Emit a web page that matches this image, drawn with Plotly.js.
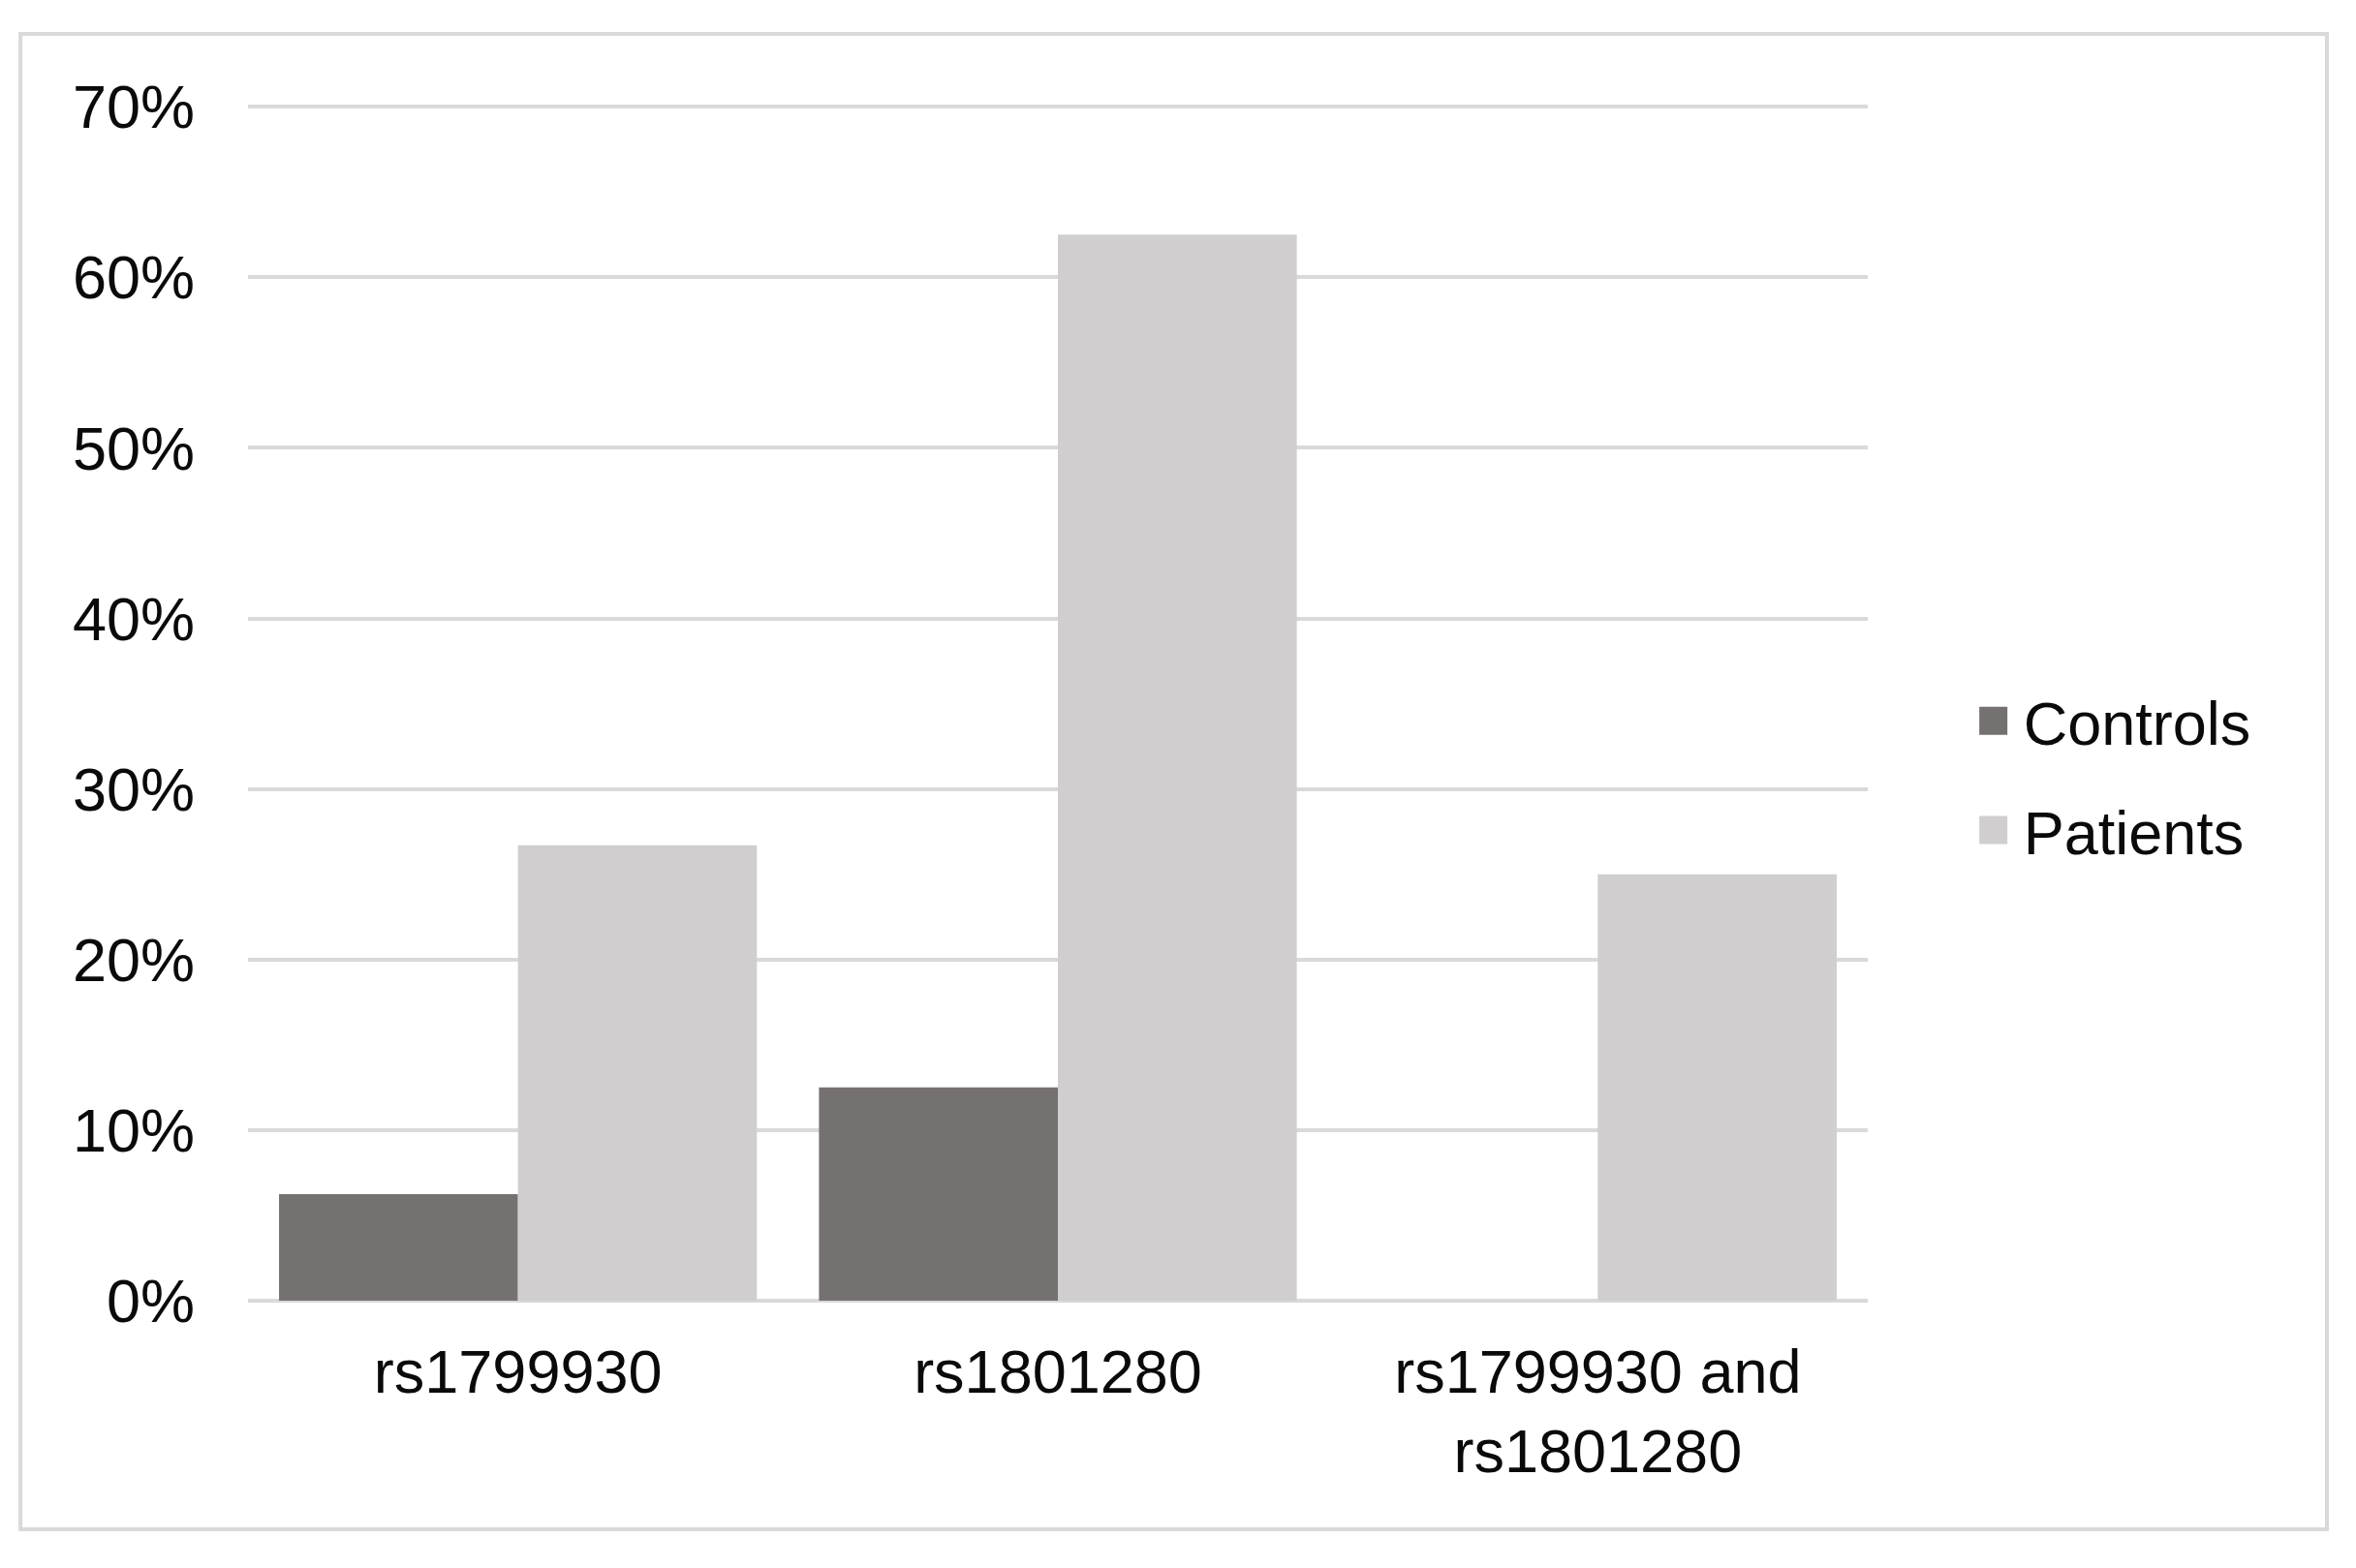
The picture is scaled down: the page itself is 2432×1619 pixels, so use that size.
<!DOCTYPE html>
<html>
<head>
<meta charset="utf-8">
<script src="https://cdn.plot.ly/plotly-3.0.1.min.js"></script>
<style>
  html, body { margin: 0; padding: 0; background: #ffffff; }
  #chart { width: 2432px; height: 1619px; }
</style>
</head>
<body>
<div id="chart"></div>
<script>
// ---- data ----
const categories = ["rs1799930", "rs1801280", "rs1799930 and<br>rs1801280"];
const controls = [6.25, 12.5, 0];
const patients = [26.7, 62.5, 25.0];
const seriesNames = ["Controls", "Patients"];
const yTickValues = [0, 10, 20, 30, 40, 50, 60, 70];
const yTickLabels = ["0%", "10%", "20%", "30%", "40%", "50%", "60%", "70%"];

const FONT = "Liberation Sans, Arial, sans-serif";
const TXT = "#0a0a0a";

const traces = [
  {
    type: "bar", name: seriesNames[0], x: categories, y: controls,
    marker: { color: "#767171", line: { width: 0 } },
    legendgroup: "a", hoverinfo: "skip"
  },
  {
    type: "bar", name: seriesNames[1], x: categories, y: patients,
    marker: { color: "#D0CECE", line: { width: 0 } },
    legendgroup: "b", hoverinfo: "skip"
  }
];

const layout = {
  width: 2432, height: 1619,
  paper_bgcolor: "#ffffff", plot_bgcolor: "#ffffff",
  margin: { l: 256, r: 504, t: 105, b: 276, pad: 0 },
  barmode: "group", bargap: 0.115, bargroupgap: 0,
  font: { family: FONT, size: 63, color: TXT },
  showlegend: true,
  legend: {
    x: 1.059, xanchor: "left", y: 0.438, yanchor: "middle",
    font: { family: FONT, size: 63, color: TXT },
    traceorder: "grouped", tracegroupgap: 28, itemwidth: 52,
    bgcolor: "rgba(0,0,0,0)", borderwidth: 0
  },
  xaxis: {
    type: "category", showgrid: false, zeroline: false, showline: false,
    ticks: "", ticklabelstandoff: 31,
    tickfont: { family: FONT, size: 63, color: TXT }
  },
  yaxis: {
    range: [0, 70.3], tickmode: "array", tickvals: yTickValues, ticktext: yTickLabels,
    showgrid: true, gridcolor: "#D9D9D9", gridwidth: 4,
    zeroline: true, zerolinecolor: "#D9D9D9", zerolinewidth: 4,
    showline: false, ticks: "", ticklabelstandoff: 54,
    tickfont: { family: FONT, size: 63, color: TXT }
  },
  shapes: [{
    type: "rect", xref: "paper", yref: "paper",
    x0: -0.1405, x1: 1.2835, y0: -0.1906, y1: 1.0566,
    line: { color: "#D9D9D9", width: 4 }, fillcolor: "rgba(0,0,0,0)", layer: "below"
  }]
};

function enlargeLegendSymbols() {
  document.querySelectorAll("#chart .legend .legendpoints path").forEach(function (p) {
    p.setAttribute("d", "M14.5,14.5H-14.5V-14.5H14.5Z");
    p.style.strokeWidth = "0px";
  });
}

Plotly.newPlot("chart", traces, layout, { displayModeBar: false, staticPlot: true })
  .then(function (gd) {
    enlargeLegendSymbols();
    gd.on("plotly_afterplot", enlargeLegendSymbols);
  });
</script>
</body>
</html>
